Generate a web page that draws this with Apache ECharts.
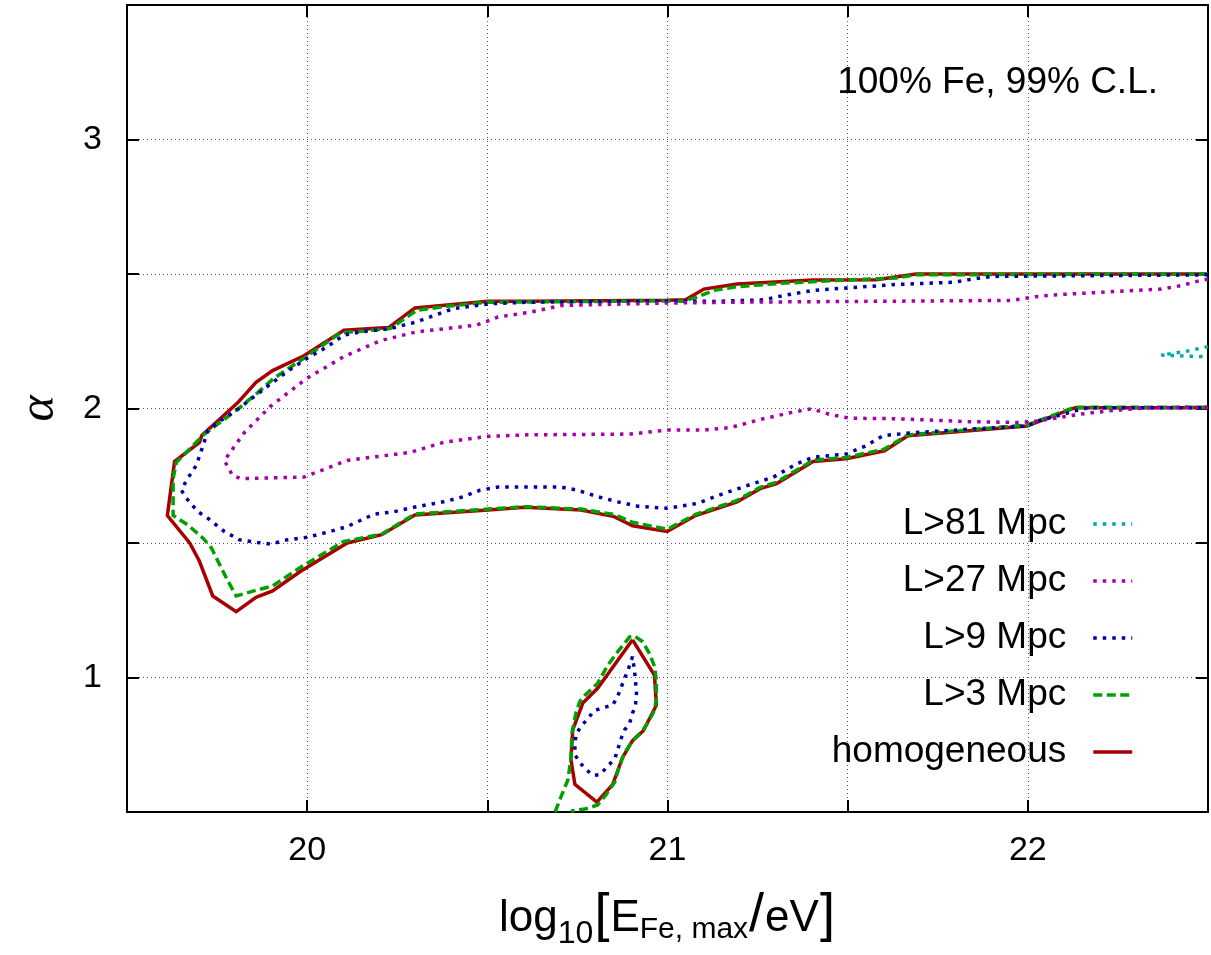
<!DOCTYPE html>
<html>
<head>
<meta charset="utf-8">
<script src="https://cdn.jsdelivr.net/npm/echarts@6/dist/echarts.min.js"></script>
<style>
html,body{margin:0;padding:0;background:#fff;overflow:hidden}
#chart{width:100vw;height:100vh}
</style>
</head>
<body>
<div id="chart"></div>
<script>
// Axis ticks that carry a printed label
const xTickLabels = [20, 21, 22];
const yTickLabels = [1, 2, 3];

// Contour lines, points as [log10(E_max/eV), alpha]
const homogeneousMain = [
  [22.5,2.500],[21.690,2.500],[21.579,2.479],[21.404,2.478],[21.193,2.463],[21.101,2.444],
  [21.050,2.404],[20.999,2.402],[20.608,2.399],[20.502,2.399],[20.299,2.374],[20.226,2.301],
  [20.102,2.291],[19.991,2.196],[19.904,2.141],[19.858,2.097],[19.807,2.021],[19.747,1.948],
  [19.708,1.901],[19.701,1.874],[19.632,1.803],[19.612,1.602],[19.674,1.500],[19.701,1.432],
  [19.738,1.303],[19.803,1.245],[19.858,1.298],[19.904,1.322],[19.982,1.395],[20.111,1.500],
  [20.207,1.531],[20.299,1.604],[20.502,1.623],[20.604,1.633],[20.760,1.623],[20.852,1.598],
  [20.903,1.564],[20.999,1.543],[21.078,1.602],[21.193,1.653],[21.257,1.702],[21.303,1.721],
  [21.404,1.803],[21.496,1.813],[21.602,1.843],[21.667,1.899],[21.998,1.935],[22.131,2.003],
  [22.5,2.003]
];
const homogeneousIsland = [
  [20.903,1.140],[20.964,1.008],[20.969,0.897],[20.933,0.802],[20.903,0.765],[20.875,0.702],
  [20.848,0.603],[20.804,0.537],[20.743,0.603],[20.732,0.695],[20.737,0.805],[20.765,0.905],
  [20.806,0.960],[20.903,1.140]
];
const l3Main = [
  [22.5,2.500],[21.690,2.497],[21.634,2.485],[21.450,2.475],[21.312,2.465],[21.193,2.453],
  [21.128,2.439],[21.082,2.414],[21.044,2.399],[20.999,2.400],[20.502,2.395],[20.387,2.380],
  [20.304,2.365],[20.230,2.297],[20.092,2.281],[19.991,2.187],[19.908,2.113],[19.862,2.058],
  [19.807,1.997],[19.770,1.960],[19.715,1.905],[19.637,1.800],[19.628,1.740],[19.628,1.602],
  [19.669,1.567],[19.711,1.518],[19.734,1.482],[19.757,1.420],[19.780,1.359],[19.803,1.303],
  [19.858,1.324],[19.904,1.340],[19.982,1.410],[20.102,1.506],[20.207,1.533],[20.299,1.608],
  [20.502,1.626],[20.604,1.635],[20.760,1.626],[20.852,1.606],[20.903,1.577],[20.999,1.551],
  [21.078,1.606],[21.193,1.658],[21.257,1.707],[21.303,1.726],[21.404,1.808],[21.496,1.818],
  [21.602,1.849],[21.667,1.902],[21.998,1.939],[22.131,2.005],[22.5,2.005]
];
const l3Island = [
  [20.688,0.500],[20.704,0.555],[20.724,0.621],[20.732,0.702],[20.735,0.794],[20.746,0.868],
  [20.757,0.912],[20.771,0.934],[20.806,0.978],[20.834,1.045],[20.862,1.096],[20.895,1.151],
  [20.908,1.155],[20.931,1.133],[20.950,1.089],[20.964,1.041],[20.969,0.990],[20.969,0.916],
  [20.964,0.879],[20.950,0.842],[20.931,0.802],[20.903,0.765],[20.881,0.721],[20.867,0.673],
  [20.853,0.610],[20.829,0.563],[20.806,0.526],[20.771,0.511],[20.732,0.504]
];
const l9Main = [
  [22.5,2.497],[21.901,2.491],[21.846,2.481],[21.791,2.469],[21.634,2.461],[21.496,2.448],
  [21.404,2.439],[21.322,2.420],[21.266,2.404],[21.128,2.398],[20.999,2.400],[20.608,2.395],
  [20.502,2.389],[20.405,2.371],[20.304,2.322],[20.230,2.297],[20.148,2.285],[20.102,2.273],
  [20.056,2.230],[20.000,2.187],[19.945,2.138],[19.872,2.064],[19.807,1.997],[19.752,1.948],
  [19.724,1.917],[19.711,1.862],[19.692,1.788],[19.665,1.733],[19.651,1.696],[19.665,1.666],
  [19.697,1.616],[19.724,1.592],[19.770,1.543],[19.812,1.512],[19.862,1.502],[19.899,1.496],
  [19.945,1.512],[20.000,1.521],[20.056,1.540],[20.111,1.561],[20.185,1.607],[20.240,1.616],
  [20.304,1.635],[20.378,1.653],[20.433,1.672],[20.479,1.696],[20.530,1.708],[20.705,1.708],
  [20.751,1.696],[20.806,1.672],[20.862,1.653],[20.917,1.637],[20.999,1.629],[21.082,1.647],
  [21.156,1.684],[21.229,1.717],[21.294,1.745],[21.358,1.794],[21.404,1.819],[21.496,1.831],
  [21.552,1.862],[21.598,1.899],[21.671,1.909],[21.837,1.923],[21.998,1.935],[22.030,1.954],
  [22.131,1.991],[22.168,2.003],[22.5,2.003]
];
const l9Island = [
  [20.903,1.078],[20.890,1.026],[20.881,0.997],[20.862,0.931],[20.848,0.897],[20.815,0.886],
  [20.795,0.875],[20.779,0.846],[20.760,0.820],[20.746,0.787],[20.743,0.750],[20.743,0.713],
  [20.757,0.684],[20.773,0.658],[20.795,0.636],[20.815,0.640],[20.832,0.669],[20.853,0.695],
  [20.862,0.732],[20.870,0.769],[20.881,0.805],[20.895,0.831],[20.903,0.868],[20.911,0.894],
  [20.914,0.942],[20.911,0.990],[20.908,1.030],[20.903,1.078]
];
const l27Main = [
  [22.5,2.481],[22.476,2.475],[22.426,2.457],[22.371,2.444],[22.177,2.430],[22.067,2.422],
  [22.012,2.414],[21.957,2.402],[21.634,2.399],[21.174,2.395],[20.999,2.392],[20.898,2.389],
  [20.705,2.383],[20.622,2.359],[20.530,2.340],[20.470,2.310],[20.304,2.285],[20.203,2.252],
  [20.102,2.193],[20.000,2.113],[19.899,2.009],[19.826,1.911],[19.780,1.825],[19.770,1.807],
  [19.793,1.751],[19.816,1.739],[19.991,1.745],[20.111,1.807],[20.286,1.837],[20.378,1.874],
  [20.497,1.896],[20.608,1.902],[20.898,1.905],[20.999,1.920],[21.101,1.920],[21.174,1.929],
  [21.266,1.962],[21.340,1.984],[21.400,1.999],[21.450,1.978],[21.506,1.964],[21.634,1.962],
  [21.837,1.951],[21.975,1.948],[22.030,1.954],[22.058,1.960],[22.140,1.978],[22.223,1.991],
  [22.334,2.003],[22.5,2.005]
];
const l81Patch = [
  [22.5,2.230],[22.434,2.211],[22.370,2.199],[22.434,2.195],[22.5,2.193]
];

const FONT = 'Liberation Sans, Arial, sans-serif';

// Layout is designed for a 1211 x 955 page and scaled to the actual viewport
const el = document.getElementById('chart');
const W = el.clientWidth || 1211;
const H = el.clientHeight || 955;
const sx = W / 1211, sy = H / 955, sf = Math.min(sx, sy);
const X = function (v) { return v * sx; };
const Y = function (v) { return v * sy; };
const F = function (v) { return v * sf; };

const styles = {
  'L>81 Mpc':     { color: '#00a8a8', dash: [3.5, 6], width: 3.5 },
  'L>27 Mpc':     { color: '#a800a8', dash: [3.5, 6], width: 3.5 },
  'L>9 Mpc':      { color: '#0000a8', dash: [3.5, 6], width: 3.5 },
  'L>3 Mpc':      { color: '#00a000', dash: [9, 4.5], width: 3.5 },
  'homogeneous':  { color: '#a80000', dash: 'solid', width: 3.5 }
};

function scaledDash(d) {
  return Array.isArray(d) ? d.map(F) : d;
}

function contour(name, data, z) {
  const s = styles[name];
  return {
    type: 'line', name: name, data: data, z: z,
    showSymbol: false, symbol: 'none', clip: true, silent: true,
    lineStyle: { color: s.color, width: F(s.width), type: scaledDash(s.dash), cap: 'butt', join: 'miter' },
    itemStyle: { color: s.color, opacity: 0 }
  };
}

const series = [
  contour('homogeneous', homogeneousMain, 2),
  contour('homogeneous', homogeneousIsland, 2),
  contour('L>3 Mpc', l3Main, 3),
  contour('L>3 Mpc', l3Island, 3),
  contour('L>9 Mpc', l9Main, 4),
  contour('L>9 Mpc', l9Island, 4),
  contour('L>27 Mpc', l27Main, 5),
  contour('L>81 Mpc', l81Patch, 6)
];

// One key entry per legend box so that every entry is right-aligned
const legendOrder = ['L>81 Mpc', 'L>27 Mpc', 'L>9 Mpc', 'L>3 Mpc', 'homogeneous'];
const legends = legendOrder.map(function (name, i) {
  const s = styles[name];
  return {
    data: [name], orient: 'vertical', align: 'right', selectedMode: false,
    right: X(77), top: Y(504 + i * 57), padding: 0,
    itemWidth: X(39), itemHeight: F(14),
    itemStyle: { opacity: 0 },
    lineStyle: { color: s.color, width: F(s.width), type: scaledDash(s.dash), cap: 'butt' },
    textStyle: { fontFamily: FONT, fontSize: F(37), color: '#000', lineHeight: F(40), padding: [0, X(22), 0, 0] }
  };
});

function tickFormatter(list) {
  return function (v) {
    for (let i = 0; i < list.length; i++) {
      if (Math.abs(v - list[i]) < 1e-6) return String(list[i]);
    }
    return '';
  };
}

const gridLine = { show: true, lineStyle: { color: '#555', width: 1, type: [F(1), F(3)] } };
const frameLine = { show: true, onZero: false, lineStyle: { color: '#000', width: F(2) } };
const innerTick = { show: true, inside: true, length: F(12), lineStyle: { color: '#000', width: F(2) } };

const chart = echarts.init(el, null, { renderer: 'canvas' });
chart.setOption({
  animation: false,
  backgroundColor: '#fff',
  title: {
    text: '100% Fe, 99% C.L.', right: X(53), top: Y(64), padding: 0,
    textStyle: { fontFamily: FONT, fontSize: F(37), fontWeight: 'normal', color: '#000' }
  },
  legend: legends,
  grid: { left: X(127), top: Y(5), width: X(1087), height: Y(815), containLabel: false },
  xAxis: [
    {
      type: 'value', min: 19.5, max: 22.5, interval: 0.5, position: 'bottom',
      axisLine: frameLine, axisTick: innerTick, splitLine: gridLine,
      axisLabel: { formatter: tickFormatter(xTickLabels), fontFamily: FONT, fontSize: F(34), color: '#000', margin: Y(22) },
      name: '{m|log}{s10|10}{b|[}{m|E}{sfe|Fe, max}{b|/}{m|eV}{b|]}',
      nameLocation: 'middle', nameGap: Y(77),
      nameTextStyle: {
        rich: {
          m: { fontFamily: FONT, fontSize: F(44), lineHeight: F(44), color: '#000', verticalAlign: 'top', padding: [F(8), 0, 0, 0] },
          b: { fontFamily: FONT, fontSize: F(54), lineHeight: F(54), color: '#000', verticalAlign: 'top', padding: [0, F(1), 0, F(1)] },
          s10: { fontFamily: FONT, fontSize: F(32), lineHeight: F(32), color: '#000', verticalAlign: 'top', padding: [F(29), 0, 0, 0] },
          sfe: { fontFamily: FONT, fontSize: F(30), lineHeight: F(30), color: '#000', verticalAlign: 'top', padding: [F(26), 0, 0, 0] }
        }
      }
    },
    {
      type: 'value', min: 19.5, max: 22.5, interval: 0.5, position: 'top',
      axisLine: frameLine, axisTick: innerTick, splitLine: { show: false }, axisLabel: { show: false }
    }
  ],
  yAxis: [
    {
      type: 'value', min: 0.5, max: 3.5, interval: 0.5, position: 'left',
      axisLine: frameLine, axisTick: innerTick, splitLine: gridLine,
      axisLabel: { formatter: tickFormatter(yTickLabels), fontFamily: FONT, fontSize: F(34), color: '#000', margin: X(25) },
      name: 'α', nameLocation: 'middle', nameGap: X(62), nameRotate: 90,
      nameTextStyle: { fontFamily: 'Liberation Serif, serif', fontStyle: 'italic', fontSize: F(50), color: '#000' }
    },
    {
      type: 'value', min: 0.5, max: 3.5, interval: 0.5, position: 'right',
      axisLine: frameLine, axisTick: innerTick, splitLine: { show: false }, axisLabel: { show: false }
    }
  ],
  series: series
});
</script>
</body>
</html>
